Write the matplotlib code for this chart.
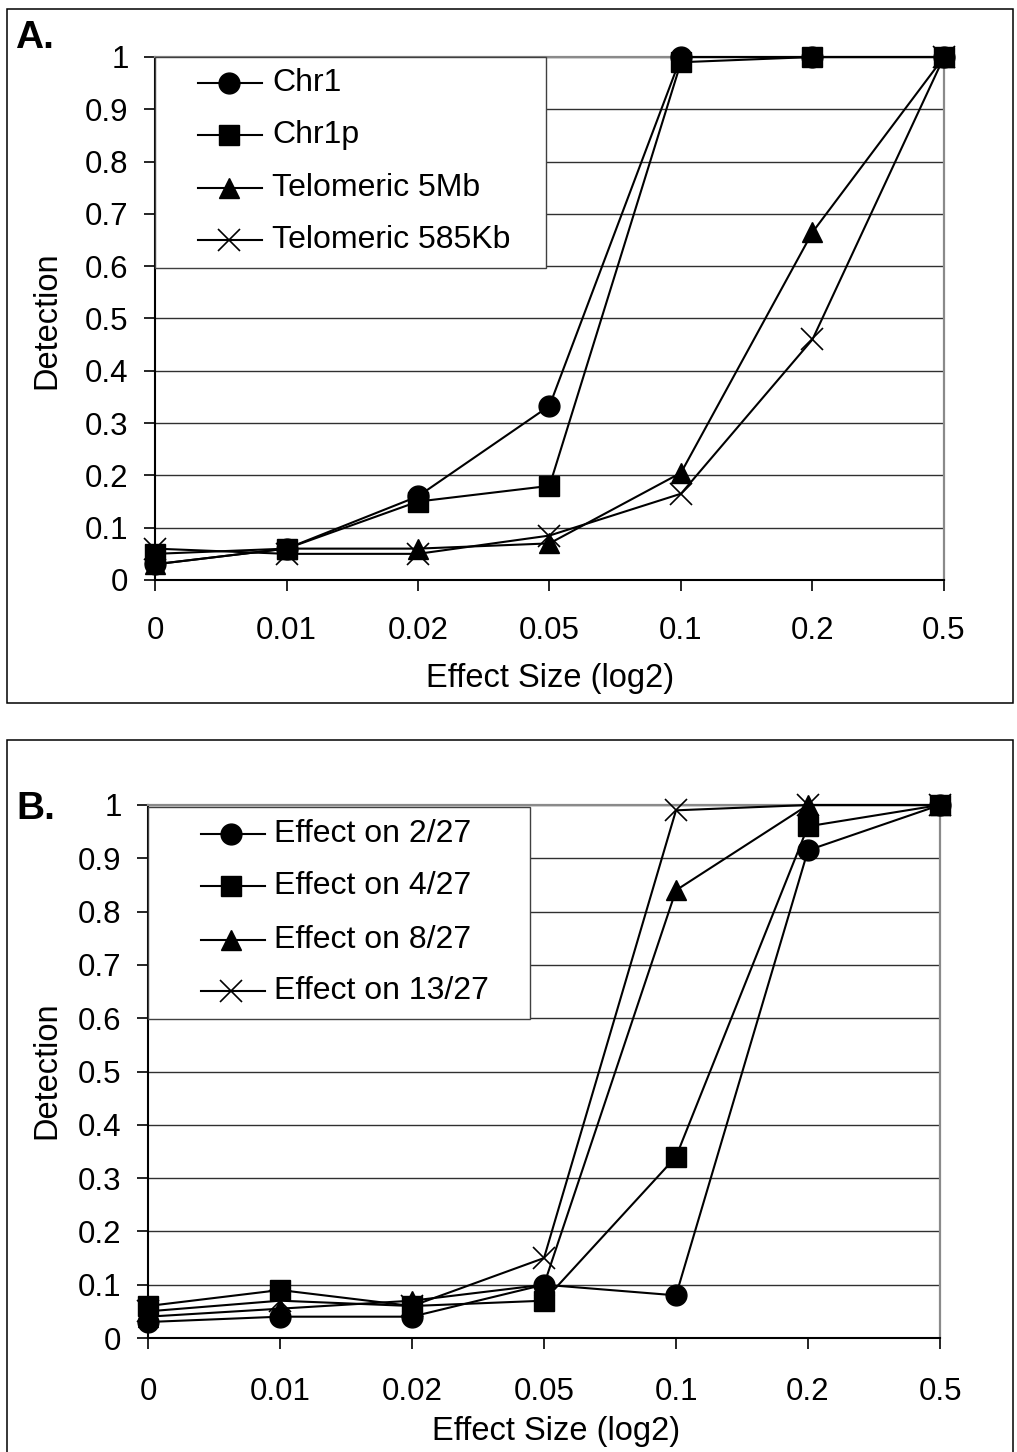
"""
Two-panel detection vs effect size figure (A: region size, B: fraction of samples).
"""

import numpy as np
import matplotlib
matplotlib.use("Agg")
import matplotlib.pyplot as plt
from matplotlib.patches import Rectangle

W, H = 1017, 1452

# ============================================================== Data

effect_sizes = ["0", "0.01", "0.02", "0.05", "0.1", "0.2", "0.5"]

a_labels = ["Chr1", "Chr1p", "Telomeric 5Mb", "Telomeric 585Kb"]
a_chr1 = [0.03, 0.06, 0.16, 0.333, 1.0, 1.0, 1.0]
a_chr1p = [0.05, 0.06, 0.15, 0.18, 0.99, 1.0, 1.0]
a_tel5mb = [0.03, 0.06, 0.06, 0.07, 0.205, 0.665, 1.0]
a_tel585kb = [0.06, 0.05, 0.05, 0.085, 0.165, 0.46, 1.0]

b_labels = ["Effect on 2/27", "Effect on 4/27", "Effect on 8/27", "Effect on 13/27"]
b_2of27 = [0.03, 0.04, 0.04, 0.10, 0.08, 0.915, 1.0]
b_4of27 = [0.06, 0.09, 0.06, 0.07, 0.34, 0.96, 1.0]
b_8of27 = [0.04, 0.055, 0.07, 0.10, 0.84, 1.0, 1.0]
b_13of27 = [0.05, 0.07, 0.06, 0.15, 0.99, 1.0, 1.0]

y_ticks = np.round(np.arange(0, 1.01, 0.1), 1)

MARKERS = ["o", "s", "^", "x"]
MSIZE = {"o": 15, "s": 14.5, "^": 15, "x": 16}
FONT = "Liberation Sans"


def fx(px):
    return px / W


def fy(py):
    return 1 - py / H


# ============================================================== Panels

def draw_panel(fig, box, series, labels, leg, xpad):
    """box = (left, top, right, bottom) in pixels; leg = legend geometry in pixels."""
    l, t, r, b = box
    ax = fig.add_axes([fx(l), fy(b), (r - l) / W, (b - t) / H])
    x = np.arange(len(effect_sizes))

    for vals, m in zip(series, MARKERS):
        ax.plot(x, vals, color="black", lw=1.5, marker=m, ms=MSIZE[m],
                mec="black", mfc="black", mew=1.2 if m == "x" else 1.0,
                clip_on=False, zorder=4)

    ax.set_xlim(0, len(effect_sizes) - 1)
    ax.set_ylim(0, 1)
    ax.set_xticks(x)
    ax.set_xticklabels(effect_sizes, fontsize=22.5, family=FONT)
    ax.set_yticks(y_ticks)
    ax.set_yticklabels([f"{v:g}" for v in y_ticks], fontsize=22.5, family=FONT)
    ax.tick_params(axis="x", direction="out", length=8, width=1.2, pad=xpad)
    ax.tick_params(axis="y", direction="out", length=8, width=1.2, pad=11)
    ax.yaxis.grid(True, color="#303030", lw=1.0)
    ax.set_axisbelow(True)
    for side in ("left", "bottom"):
        ax.spines[side].set_color("black")
        ax.spines[side].set_linewidth(1.5)
    for side in ("top", "right"):
        ax.spines[side].set_color("#8a8a8a")
        ax.spines[side].set_linewidth(1.6)

    # Legend drawn by hand so the padding matches the original box.
    bx0, by0, bx1, by1 = leg["box"]
    ax.add_patch(Rectangle((fx(bx0), fy(by1)), (bx1 - bx0) / W, (by1 - by0) / H,
                           transform=fig.transFigure, facecolor="white",
                           edgecolor="#404040", lw=1.0, zorder=5, clip_on=False))
    lx0, lx1 = leg["line"]
    for lab, m, ry in zip(labels, MARKERS, leg["rows"]):
        ax.plot([fx(lx0), fx(lx1)], [fy(ry), fy(ry)], color="black", lw=1.5,
                transform=fig.transFigure, clip_on=False, zorder=6)
        ax.plot([fx(leg["marker"])], [fy(ry)], marker=m, ms=MSIZE[m], color="black",
                mew=1.2 if m == "x" else 1.0, transform=fig.transFigure,
                clip_on=False, zorder=6)
        ax.text(fx(leg["text"]), fy(ry), lab, transform=fig.transFigure,
                fontsize=23, family=FONT, va="center", ha="left", zorder=6)
    return ax


def main():
    fig = plt.figure(figsize=(W / 100, H / 100), dpi=100)

    # outer frames around each panel
    for (x0, y0, x1, y1) in [(7, 9, 1013, 703), (7, 740, 1013, 1462)]:
        fig.patches.append(Rectangle((fx(x0), fy(y1)), (x1 - x0) / W, (y1 - y0) / H,
                                     transform=fig.transFigure, fill=False,
                                     edgecolor="black", lw=1.1))

    draw_panel(fig, (155, 57, 944, 580),
               [a_chr1, a_chr1p, a_tel5mb, a_tel585kb], a_labels,
               {"box": (155, 57, 546, 268), "line": (198, 262), "marker": 229,
                "text": 272, "rows": [83, 135, 188, 240]}, xpad=18)
    draw_panel(fig, (148, 805, 940, 1338),
               [b_2of27, b_4of27, b_8of27, b_13of27], b_labels,
               {"box": (148, 807, 530, 1019), "line": (201, 265), "marker": 231,
                "text": 274, "rows": [834, 886, 940, 991]}, xpad=20)

    fig.text(fx(15), fy(48), "A.", fontsize=28, weight="bold", family=FONT,
             ha="left", va="baseline")
    fig.text(fx(16), fy(819), "B.", fontsize=28, weight="bold", family=FONT,
             ha="left", va="baseline")
    for cy in (320, 1070):
        fig.text(fx(47), fy(cy), "Detection", fontsize=23.5, family=FONT,
                 rotation=90, ha="center", va="center")
    fig.text(fx(550), fy(687), "Effect Size (log2)", fontsize=23.5, family=FONT,
             ha="center", va="baseline")
    fig.text(fx(556), fy(1440), "Effect Size (log2)", fontsize=23.5, family=FONT,
             ha="center", va="baseline")

    fig.savefig("out.png", dpi=100)
    plt.close(fig)


if __name__ == "__main__":
    main()
